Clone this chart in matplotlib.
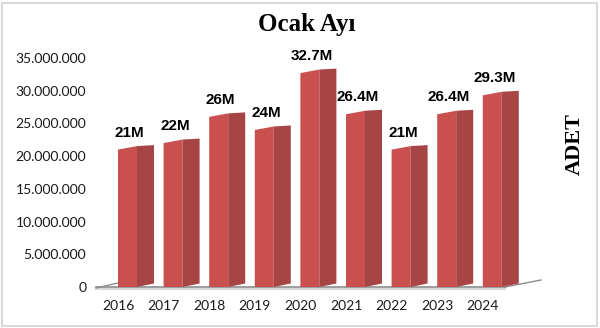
import numpy as np
import matplotlib.pyplot as plt
from matplotlib.patches import Polygon, Rectangle

# yearly counts for January
years = ['2016', '2017', '2018', '2019', '2020', '2021', '2022', '2023', '2024']
values = [21.0e6, 22.0e6, 26.0e6, 24.0e6, 32.7e6, 26.4e6, 21.0e6, 26.4e6, 29.3e6]
value_labels = ['21M', '22M', '26M', '24M', '32.7M', '26.4M', '21M', '26.4M', '29.3M']
yticks = [0, 5e6, 10e6, 15e6, 20e6, 25e6, 30e6, 35e6]
ytick_labels = ['0', '5.000.000', '10.000.000', '15.000.000', '20.000.000',
                '25.000.000', '30.000.000', '35.000.000']

front_col = '#C9504F'
side_col = '#A64543'

W, H = 600, 328
fig = plt.figure(figsize=(W / 100, H / 100), dpi=100)

# axes placed in pixel terms: y=0 at 287px, 35M at 58px
ax_l, ax_r, ax_b, ax_t = 96, 541, 287, 58
ax = fig.add_axes([ax_l / W, (H - ax_b) / H, (ax_r - ax_l) / W, (ax_b - ax_t) / H])
step = 45.6  # px between categories
x0 = -(118 - ax_l) / step
x1 = x0 + (ax_r - ax_l) / step
ax.set_xlim(x0, x1)
ax.set_ylim(0, 35e6)
ypx = 35e6 / (ax_b - ax_t)  # data units per pixel

wf, ws = 19 / step, 17 / step  # front / side widths
for i, v in enumerate(values):
    xa, xb, xc = i, i + wf, i + wf + ws
    front = [(xa, 0), (xb, 0), (xb, v + 3.5 * ypx), (xa, v)]
    side = [(xb, 0), (xc, 3.5 * ypx), (xc, v + 4.5 * ypx), (xb, v + 3.5 * ypx)]
    ax.add_patch(Polygon(front, closed=True, fc=front_col, ec='none', zorder=3))
    ax.add_patch(Polygon(side, closed=True, fc=side_col, ec='none', zorder=3))
    ax.annotate(value_labels[i], (i + 0.25, v), xytext=(0, 13), textcoords='offset pixels',
                ha='center', va='baseline', fontsize=11, fontweight='bold',
                family='Liberation Sans', color='black', zorder=4)

# floor edges
xe = (505 - 118) / step
ax.plot([x0, xe], [0, 0], color='#8C8C8C', lw=1.2, zorder=2, clip_on=False)
ax.plot([x0, 0], [-1 * ypx, 4 * ypx], color='#8C8C8C', lw=1, zorder=2, clip_on=False)
ax.plot([xe, x1], [0, 7 * ypx], color='#8C8C8C', lw=1, zorder=2, clip_on=False)
ax.plot([x0, xe], [-1.5 * ypx, -1.5 * ypx], color='#D9D9D9', lw=1.5, zorder=1, clip_on=False)

for s in ax.spines.values():
    s.set_visible(False)
ax.set_yticks(yticks)
ax.set_yticklabels(ytick_labels, family='Lato', fontsize=10, color='#1A1A1A')
ax.set_xticks(range(len(years)))
ax.set_xticklabels(years, family='Lato', fontsize=10, color='#1A1A1A')
ax.tick_params(axis='both', length=0)
ax.tick_params(axis='y', pad=7)
ax.tick_params(axis='x', pad=9)

fig.text(307 / W, 1 - 24 / H, 'Ocak Ayı', ha='center', va='center',
         family='Liberation Serif', fontweight='bold', fontsize=18)
fig.text(575 / W, 1 - 144 / H, 'ADET', ha='center', va='center', rotation=90,
         family='Liberation Serif', fontweight='bold', fontsize=16)

# outer frame
fig.patches.append(Rectangle((2 / W, 2 / H), 595 / W, 323 / H, transform=fig.transFigure,
                             fill=False, ec='#D9D9D9', lw=1.5))

fig.savefig('out.png', dpi=100)
